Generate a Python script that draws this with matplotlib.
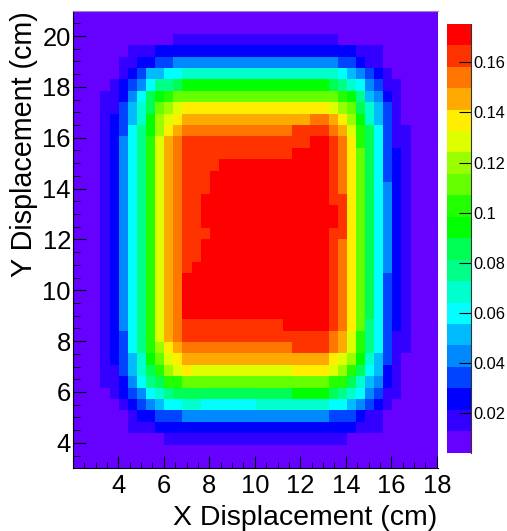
import numpy as np
import matplotlib
matplotlib.use('Agg')
import matplotlib.pyplot as plt
from matplotlib.colors import ListedColormap, BoundaryNorm
from matplotlib.ticker import AutoMinorLocator

plt.rcParams['font.family'] = ['Liberation Sans', 'DejaVu Sans']

W, H = 507, 531

# contour band read per cell, top row first (base 36 digit: 0 = lowest band, j = highest)
# each row is written as left flank, plateau, right flank
cell_bands = [
    "0" * 40,
    "0" * 40,
    "0" * 11 + "1" * 18 + "0" * 11,
    "000000" + "111" + "2" * 22 + "111" + "000000",
    "00000" + "11" + "22" + "33" + "4" * 18 + "33" + "2" + "11" + "000000",
    "00000" + "123" + "55" + "66" + "7" * 17 + "654321" + "00000",
    "0000" + "1234" + "6889" + "a" * 16 + "987643" + "11" + "0000",
    "000" + "11" + "246" + "9ab" + "c" * 18 + "ba8" + "5421" + "0000",
    "000" + "11" + "357" + "9cde" + "f" * 16 + "edc9" + "7531" + "0000",
    "000" + "1" + "2357" + "adef" + "g" * 14 + "hh" + "gfda" + "7531" + "0000",
    "000" + "1" + "2368" + "adfg" + "h" * 12 + "iiii" + "hgeb" + "9631" + "1" + "000",
    "000" + "1" + "2468" + "begh" + "i" * 14 + "jj" + "ihfb" + "9631" + "1" + "000",
    "000" + "1" + "2468" + "begh" + "i" * 12 + "jjjj" + "ihfc" + "9632" + "1" + "000",
    "000" + "1" + "2468" + "begh" + "iiii" + "j" * 12 + "ihfc" + "9632" + "1" + "000",
    "000" + "1" + "2468" + "begh" + "iii" + "j" * 13 + "ihfc" + "9632" + "1" + "000",
    "000" + "1" + "2468" + "begh" + "iii" + "j" * 13 + "ihfc" + "9642" + "1" + "000",
    "000" + "1" + "2468" + "begh" + "ii" + "j" * 14 + "iifc" + "9642" + "1" + "000",
    "000" + "1" + "2468" + "begh" + "ii" + "j" * 15 + "ifc" + "9642" + "1" + "000",
    "000" + "1" + "2468" + "begh" + "ii" + "j" * 15 + "ifc" + "9642" + "1" + "000",
    "000" + "1" + "2468" + "begh" + "iii" + "j" * 13 + "iifc" + "9642" + "1" + "000",
    "000" + "1" + "2468" + "begh" + "ii" + "j" * 14 + "ihfc" + "9642" + "1" + "000",
    "000" + "1" + "2468" + "begh" + "ii" + "j" * 14 + "ihfc" + "9642" + "1" + "000",
    "000" + "1" + "2468" + "begh" + "i" + "j" * 15 + "ihfc" + "9642" + "1" + "000",
    "000" + "1" + "2468" + "begh" + "j" * 16 + "ihfc" + "9632" + "1" + "000",
    "000" + "1" + "2468" + "begh" + "j" * 16 + "ihfc" + "9632" + "1" + "000",
    "000" + "1" + "2468" + "begh" + "j" * 16 + "ihfc" + "9632" + "1" + "000",
    "000" + "1" + "2468" + "begh" + "j" * 16 + "ihfc" + "9632" + "1" + "000",
    "000" + "1" + "2468" + "begh" + "i" * 11 + "jjjjj" + "ihfc" + "8632" + "1" + "000",
    "000" + "1" + "2368" + "begh" + "i" * 16 + "hgeb" + "8631" + "1" + "000",
    "000" + "1" + "2368" + "bdfg" + "h" * 12 + "iiii" + "hgeb" + "8631" + "1" + "000",
    "000" + "1" + "2357" + "acef" + "g" * 16 + "feda" + "7531" + "0000",
    "000" + "1" + "1357" + "9bde" + "f" + "e" * 11 + "ffff" + "edb9" + "6521" + "0000",
    "000" + "1" + "1246" + "89bb" + "c" * 16 + "bb97" + "5421" + "0000",
    "0000" + "1234" + "678" + "9" * 13 + "aaaa" + "9876" + "4311" + "0000",
    "00000" + "123" + "4566" + "77" + "6" * 6 + "7" * 8 + "6654" + "321" + "00000",
    "000000" + "122" + "333" + "4" * 16 + "3332" + "11" + "000000",
    "000000" + "111" + "2" * 22 + "111" + "000000",
    "0" * 10 + "1" * 20 + "0" * 10,
    "0" * 40,
    "0" * 40,
]

# band centres
band_values = [0.009, 0.017, 0.026, 0.034, 0.043, 0.051, 0.060, 0.068, 0.077, 0.086,
               0.094, 0.103, 0.111, 0.120, 0.128, 0.137, 0.145, 0.154, 0.163, 0.171]
band_colors = ['#6600ff', '#3300ff', '#0000ff', '#0044ff', '#0088ff', '#00bbff', '#00ffff',
               '#00ffcc', '#00ff88', '#00ff55', '#00ff00', '#22ff00', '#66ff00', '#99ff00',
               '#ddff00', '#ffee00', '#ffaa00', '#ff7700', '#ff3300', '#ff0000']
x_ticks = [4, 6, 8, 10, 12, 14, 16, 18]
y_ticks = [4, 6, 8, 10, 12, 14, 16, 18, 20]
z_ticks = [0.02, 0.04, 0.06, 0.08, 0.1, 0.12, 0.14, 0.16]
z_labels = ['0.02', '0.04', '0.06', '0.08', '0.1', '0.12', '0.14', '0.16']

for i, row in enumerate(cell_bands):
    assert len(row) == 40, (i, len(row))
z = np.array([[band_values[int(c, 36)] for c in row] for row in cell_bands])

x_edges = np.linspace(2.01, 18.05, z.shape[1] + 1)
y_edges = np.linspace(20.99, 3.03, z.shape[0] + 1)
levels = np.linspace(0.00428, 0.1754, 21)
cmap = ListedColormap(band_colors)
norm = BoundaryNorm(levels, cmap.N)


def px_axes(fig, left, top, right, bottom):
    return fig.add_axes([left / W, 1 - bottom / H, (right - left) / W, (bottom - top) / H])


fig = plt.figure(figsize=(W / 100, H / 100), dpi=100)
ax = px_axes(fig, 73, 10.9, 438, 467.5)
mesh = ax.pcolormesh(x_edges, y_edges, z, cmap=cmap, norm=norm)
ax.set_xlim(2.01, 18.05)
ax.set_ylim(3.03, 20.99)
ax.set_xticks(x_ticks)
ax.set_yticks(y_ticks)
ax.xaxis.set_minor_locator(AutoMinorLocator(4))
ax.yaxis.set_minor_locator(AutoMinorLocator(4))
ax.tick_params(axis='x', which='major', direction='in', length=8.4, width=0.8, labelsize=18.4, pad=5)
ax.tick_params(axis='y', which='major', direction='in', length=9.6, width=0.8, labelsize=18.4, pad=1.5)
ax.tick_params(axis='x', which='minor', direction='in', length=4.3, width=0.6)
ax.tick_params(axis='y', which='minor', direction='in', length=4.8, width=0.6)
ax.spines['top'].set_color('#9a86c8')
ax.spines['top'].set_linewidth(0.8)
ax.spines['right'].set_visible(False)
ax.set_xlabel('X Displacement (cm)', fontsize=20.5, loc='right')
ax.xaxis.label.set_verticalalignment('baseline')
ax.xaxis.set_label_coords(0.998, -0.1255, transform=ax.transAxes)
ax.set_ylabel('Y Displacement (cm)', fontsize=20.7, loc='top')
ax.yaxis.set_label_coords(-0.097, 1.0, transform=ax.transAxes)

cax = px_axes(fig, 447, 23.7, 471, 452.7)
cb = fig.colorbar(mesh, cax=cax, ticks=z_ticks, spacing='proportional', drawedges=False)
cb.ax.set_yticklabels(z_labels)
cb.ax.tick_params(which='major', direction='in', length=8.6, width=0.8, labelsize=11.8, pad=2, right=True)
cb.ax.minorticks_off()
cb.outline.set_visible(False)
cb.ax.axvline(1, color='#333333', lw=0.8, clip_on=False)

fig.savefig('out.png', dpi=100)
